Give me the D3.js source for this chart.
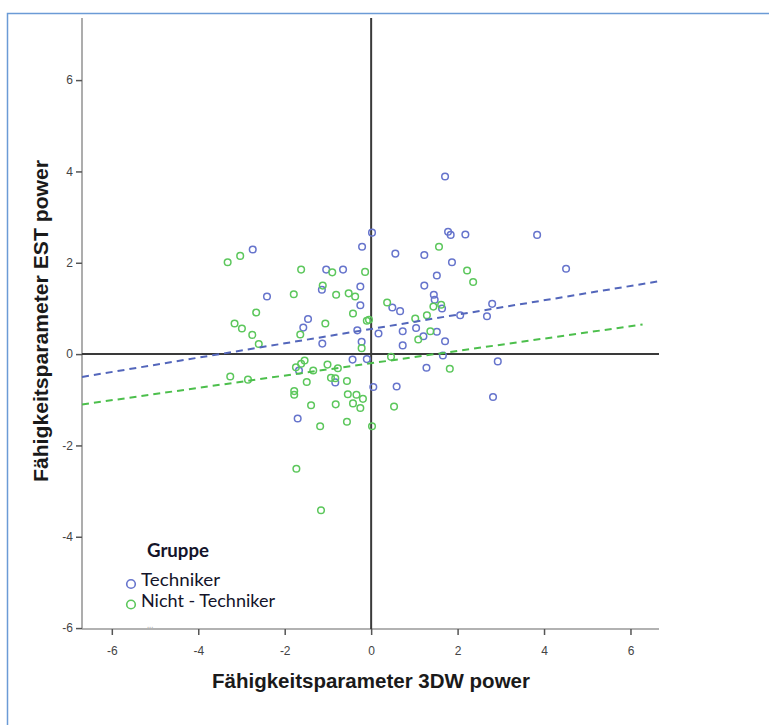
<!DOCTYPE html>
<html><head><meta charset="utf-8">
<script src="https://cdn.jsdelivr.net/npm/d3@7"></script>
<style>body{margin:0;background:#fff}svg{display:block}</style>
</head><body><svg id="c" width="769" height="725"></svg>
<script>
const technikerX = [-2.74,0.02,-0.21,0.56,-1.04,-0.65,-0.25,-1.14,-2.41,-0.25,0.49,0.67,-1.46,1.71,1.78,1.84,2.18,3.84,1.23,1.87,4.51,1.52,1.23,1.45,1.47,1.64,2.80,2.06,2.68,-1.57,-0.32,0.17,-1.13,-0.22,-0.43,-0.10,-1.67,-0.83,0.05,0.59,-1.70,0.73,1.04,1.52,1.21,1.71,0.73,1.66,2.93,1.28,2.82];
const technikerY = [2.29,2.66,2.35,2.20,1.85,1.85,1.48,1.41,1.26,1.07,1.02,0.94,0.77,3.89,2.68,2.61,2.62,2.61,2.17,2.01,1.87,1.72,1.50,1.30,1.19,1.00,1.10,0.85,0.83,0.58,0.52,0.45,0.23,0.27,-0.12,-0.11,-0.36,-0.62,-0.72,-0.71,-1.41,0.50,0.57,0.49,0.39,0.28,0.19,-0.03,-0.16,-0.30,-0.94];
const nichtX = [-3.32,-3.03,-1.62,-0.90,-0.14,-1.12,-1.79,-0.81,-0.52,-0.37,-2.66,-0.42,0.37,1.02,-0.05,1.57,2.22,2.36,1.44,1.62,1.29,-3.16,-2.99,-1.06,-0.10,-2.75,-1.64,-2.60,-0.22,0.46,-1.54,-1.62,-1.74,-1.34,-1.01,-0.77,-3.26,-2.85,-0.93,-0.83,-0.56,-1.49,-1.78,-1.78,-0.54,-0.34,-0.19,-1.39,-0.82,-0.42,-0.25,0.53,-1.18,-0.56,0.02,-1.73,-1.16,1.09,1.37,1.82];
const nichtY = [2.01,2.15,1.85,1.79,1.80,1.50,1.31,1.30,1.33,1.26,0.91,0.89,1.13,0.78,0.75,2.35,1.83,1.58,1.04,1.08,0.85,0.67,0.56,0.67,0.73,0.42,0.43,0.22,0.13,-0.06,-0.14,-0.21,-0.29,-0.36,-0.23,-0.31,-0.49,-0.56,-0.52,-0.53,-0.59,-0.61,-0.81,-0.89,-0.88,-0.89,-0.98,-1.12,-1.10,-1.08,-1.18,-1.15,-1.58,-1.48,-1.58,-2.51,-3.42,0.32,0.50,-0.32];
const fitTechniker = [0.55, 0.157];   // intercept, slope
const fitNicht = [-0.20, 0.135];
const fitRangeNicht = [-6.69, 6.28];
const xTicks = [-6,-4,-2,0,2,4,6];
const yTicks = [-6,-4,-2,0,2,4,6];
const groups = ["Techniker","Nicht - Techniker"];
const xTitle = "Fähigkeitsparameter 3DW power";
const yTitle = "Fähigkeitsparameter EST power";
const legendTitle = "Gruppe";

const colBlue = "#6674cc", colGreen = "#5cc75c";
const lineBlue = "#5366bb", lineGreen = "#4cbf4c";

const svg = d3.select("#c");
// outer frame
svg.append("rect").attr("x",7.5).attr("y",13.5).attr("width",800).attr("height",800)
  .attr("fill","none").attr("stroke","#6b9bd6").attr("stroke-width",1.5);

const L=82, R=659, T=18, B=629;
const x = d3.scaleLinear().domain([-6.69,6.66]).range([L,R]);
const y = d3.scaleLinear().domain([-6.02,7.36]).range([B,T]);

// axes
const ax = svg.append("g").attr("transform",`translate(0,${B})`)
  .call(d3.axisBottom(x).tickValues(xTicks).tickSize(6).tickPadding(11).tickFormat(d=>String(d)));
const ay = svg.append("g").attr("transform",`translate(${L},0)`)
  .call(d3.axisLeft(y).tickValues(yTicks).tickSize(6).tickPadding(3).tickFormat(d=>String(d)));
[ax,ay].forEach(a=>{
  a.select(".domain").attr("stroke","#999").attr("stroke-width",1.6);
  a.selectAll(".tick line").attr("stroke","#555").attr("stroke-width",1.5);
  a.selectAll(".tick text").attr("fill","#444").style("font-family","Liberation Sans, Arial, sans-serif").style("font-size","12px");
});
ay.select(".domain").attr("d",`M0,${T}V${B}`);
ax.select(".domain").attr("d",`M${L},0H${R}`);

// reference lines at 0
svg.append("line").attr("x1",x(0)).attr("x2",x(0)).attr("y1",T).attr("y2",B)
  .attr("stroke","#3a3a3a").attr("stroke-width",2);
svg.append("line").attr("x1",L).attr("x2",R).attr("y1",y(0)).attr("y2",y(0))
  .attr("stroke","#3a3a3a").attr("stroke-width",2);

// points
function drawPts(xs,ys,col){
  svg.append("g").selectAll("circle").data(xs.map((v,i)=>[v,ys[i]])).join("circle")
    .attr("cx",d=>x(d[0])).attr("cy",d=>y(d[1])).attr("r",3.3)
    .attr("fill","none").attr("stroke",col).attr("stroke-width",1.5);
}
drawPts(technikerX,technikerY,colBlue);
drawPts(nichtX,nichtY,colGreen);

// fit lines
const xd = x.domain();
svg.append("line").attr("x1",x(xd[0])).attr("x2",x(xd[1]))
  .attr("y1",y(fitTechniker[0]+fitTechniker[1]*xd[0])).attr("y2",y(fitTechniker[0]+fitTechniker[1]*xd[1]))
  .attr("stroke",lineBlue).attr("stroke-width",2).attr("stroke-dasharray","7,5");
svg.append("line").attr("x1",x(fitRangeNicht[0])).attr("x2",x(fitRangeNicht[1]))
  .attr("y1",y(fitNicht[0]+fitNicht[1]*fitRangeNicht[0])).attr("y2",y(fitNicht[0]+fitNicht[1]*fitRangeNicht[1]))
  .attr("stroke",lineGreen).attr("stroke-width",2).attr("stroke-dasharray","7,5");

// titles
svg.append("text").attr("x",371).attr("y",688).attr("text-anchor","middle")
  .attr("textLength",318).attr("lengthAdjust","spacingAndGlyphs")
  .style("font-family","Liberation Sans, Arial, sans-serif").style("font-weight","bold").style("font-size","20px")
  .attr("fill","#1a1a1a").text(xTitle);
svg.append("text").attr("transform","translate(48,321) rotate(-90)").attr("text-anchor","middle")
  .attr("textLength",322).attr("lengthAdjust","spacingAndGlyphs")
  .style("font-family","Liberation Sans, Arial, sans-serif").style("font-weight","bold").style("font-size","20px")
  .attr("fill","#1a1a1a").text(yTitle);

// legend
const lg = svg.append("g");
lg.append("text").attr("x",147).attr("y",557).text(legendTitle)
  .attr("textLength",62).attr("lengthAdjust","spacingAndGlyphs")
  .style("font-family","Lato, sans-serif").style("font-weight","bold").style("font-size","19px").attr("fill","#14142a");
const lcols=[colBlue,colGreen];
const lw=[79,134];
groups.forEach((g,i)=>{
  const yy = 584 + i*20.5;
  lg.append("circle").attr("cx",131).attr("cy",yy).attr("r",4.3).attr("fill","none").attr("stroke",lcols[i]).attr("stroke-width",1.6);
  lg.append("text").attr("x",141).attr("y",yy+2).text(g)
    .attr("textLength",lw[i]).attr("lengthAdjust","spacingAndGlyphs")
    .style("font-family","Lato, sans-serif").style("font-size","18px").attr("fill","#14142a");
});
lg.append("text").attr("x",147).attr("y",628).text("...")
  .style("font-family","Lato, sans-serif").style("font-size","9px").attr("fill","#bbb");
</script></body></html>
